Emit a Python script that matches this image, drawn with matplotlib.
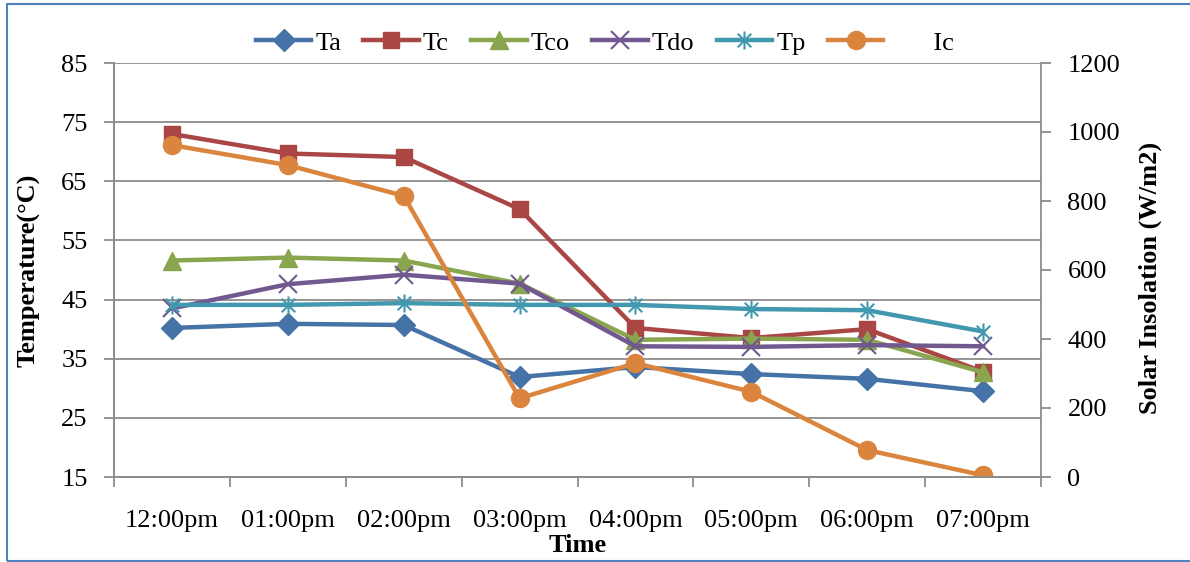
import matplotlib
matplotlib.use("Agg")
import matplotlib.pyplot as plt
from matplotlib.path import Path
from matplotlib.patches import Rectangle
import numpy as np

plt.rcParams['font.family'] = ['Liberation Serif', 'DejaVu Serif']

times = ["12:00pm", "01:00pm", "02:00pm", "03:00pm", "04:00pm",
         "05:00pm", "06:00pm", "07:00pm"]
Ta = [40.2, 40.9, 40.7, 31.9, 33.6, 32.4, 31.6, 29.5]
Tc = [73.0, 69.7, 69.1, 60.3, 40.2, 38.5, 40.0, 32.8]
Tco = [51.6, 52.1, 51.6, 47.7, 38.2, 38.4, 38.2, 32.7]
Tdo = [43.5, 47.6, 49.2, 47.7, 37.1, 37.0, 37.3, 37.1]
Tp = [44.1, 44.1, 44.4, 44.1, 44.1, 43.4, 43.2, 39.6]
Ic = [962, 904, 815, 228, 330, 247, 78, 5]

# asterisk-style marker: vertical bar plus an x
star = Path([(0, -1), (0, 1), (-0.75, -0.75), (0.75, 0.75),
             (-0.75, 0.75), (0.75, -0.75)],
            [Path.MOVETO, Path.LINETO, Path.MOVETO, Path.LINETO,
             Path.MOVETO, Path.LINETO])

fs = 19
fig = plt.figure(figsize=(11.9, 5.62), dpi=100)
ax = fig.add_axes([114/1190, 1-477/562, (1041-114)/1190, (477-63)/562])
ax2 = ax.twinx()

x = np.arange(len(times))
lw = 3.2
h_ta, = ax.plot(x, Ta, color='#4572A7', lw=lw, marker='D', ms=11, label='Ta')
h_tc, = ax.plot(x, Tc, color='#AA4643', lw=lw, marker='s', ms=12, label='Tc')
h_tco, = ax.plot(x, Tco, color='#89A54E', lw=lw, marker='^', ms=13, label='Tco')
h_tdo, = ax.plot(x, Tdo, color='#71588F', lw=lw, marker='x', ms=13, mew=1.5, label='Tdo')
h_tp, = ax.plot(x, Tp, color='#4198AF', lw=lw, marker=star, ms=13, mew=1.5,
                mfc='none', label='Tp')
h_ic, = ax2.plot(x, Ic, color='#DB843D', lw=lw, marker='o', ms=13, label='       Ic')

grid_c = '#8C8C8C'
ax.set_xlim(-0.5, len(times) - 0.5)
ax.set_ylim(15, 85)
ax.set_yticks(np.arange(15, 86, 10))
ax2.set_ylim(0, 1200)
ax2.set_yticks(np.arange(0, 1201, 200))
ax.yaxis.grid(True, color=grid_c, lw=1.3)
ax.set_axisbelow(True)

ax.set_xticks(x)
ax.set_xticklabels(times)
ax.set_xticks(np.arange(-0.5, len(times)), minor=True)
ax.tick_params(axis='x', which='major', length=0, pad=24, labelsize=fs)
ax.tick_params(axis='x', which='minor', length=7, width=1.3, color=grid_c, direction='out')
ax.tick_params(axis='y', length=7, width=1.3, color=grid_c, labelsize=fs, pad=12)
ax2.tick_params(axis='y', length=7, width=1.3, color=grid_c, labelsize=fs, pad=12)

for a in (ax, ax2):
    a.spines['top'].set_visible(False)
    for s in ('left', 'right', 'bottom'):
        a.spines[s].set_color(grid_c)
        a.spines[s].set_linewidth(1.3)
ax.spines['right'].set_visible(False)

ax.set_ylabel('Temperature(°C)', fontsize=fs, fontweight='bold')
ax.yaxis.set_label_coords(-73/927, 0.5)
ax2.set_ylabel('Solar Insolation (W/m2)', fontsize=fs, fontweight='bold')
ax2.yaxis.set_label_coords(1025/927, 0.48)
ax.set_xlabel('Time', fontsize=fs, fontweight='bold')
ax.xaxis.set_label_coords(0.50, -57/414)

fig.legend(handles=[h_ta, h_tc, h_tco, h_tdo, h_tp, h_ic], loc='center',
           bbox_to_anchor=(605/1190, 1-43/562), ncol=6, frameon=False,
           fontsize=fs, handlelength=2.1, columnspacing=0.85, handletextpad=0.15)

fig.patches.append(Rectangle((7/1190, 1/562), 1.2, 557/562, transform=fig.transFigure,
                             fill=False, edgecolor='#4F81BD', lw=1.5))

fig.savefig('out.png', dpi=100)
